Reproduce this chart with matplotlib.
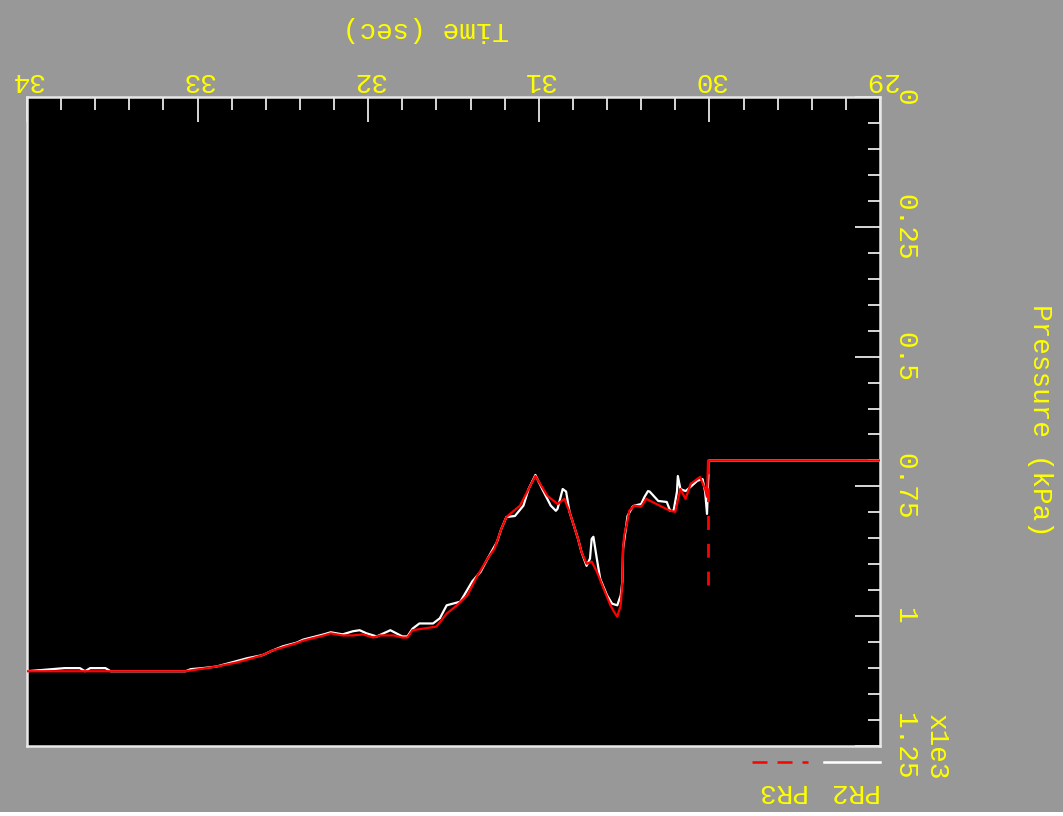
import matplotlib
matplotlib.use("Agg")
import matplotlib.pyplot as plt
from matplotlib.lines import Line2D
import numpy as np

plt.rcParams['font.family'] = ['Liberation Mono', 'DejaVu Sans Mono']

# ---------------- data (time in s, pressure in kPa x1e3) ----------------
pr2_time = [34.00, 33.78, 33.69, 33.66, 33.63, 33.54, 33.51, 33.07, 33.04, 32.97,
            32.89, 32.71, 32.62, 32.56, 32.50, 32.42, 32.38, 32.26, 32.22, 32.15,
            32.09, 32.05, 32.01, 31.95, 31.91, 31.87, 31.80, 31.77, 31.74, 31.70,
            31.62, 31.58, 31.54, 31.46, 31.39, 31.34, 31.30, 31.245, 31.22, 31.19,
            31.14, 31.09, 31.06, 31.02, 30.98, 30.93, 30.90, 30.89, 30.86, 30.84,
            30.82, 30.77, 30.75, 30.72, 30.70, 30.69, 30.68, 30.66, 30.64, 30.60,
            30.57, 30.54, 30.52, 30.51, 30.506, 30.49, 30.48, 30.45, 30.44, 30.40,
            30.38, 30.36, 30.35, 30.30, 30.25, 30.23, 30.21, 30.19, 30.185, 30.17,
            30.14, 30.125, 30.07, 30.04, 30.025, 30.014, 30.008, 30.002, 29.00]
pr2_pressure = [1.106, 1.100, 1.100, 1.106, 1.100, 1.100, 1.106, 1.106, 1.102, 1.100,
                1.097, 1.081, 1.075, 1.066, 1.058, 1.051, 1.045, 1.035, 1.031, 1.035,
                1.029, 1.027, 1.033, 1.039, 1.033, 1.027, 1.039, 1.039, 1.024, 1.014,
                1.014, 1.004, 0.979, 0.972, 0.933, 0.914, 0.889, 0.857, 0.832, 0.809,
                0.807, 0.787, 0.755, 0.728, 0.755, 0.787, 0.797, 0.793, 0.755, 0.760,
                0.799, 0.851, 0.876, 0.903, 0.889, 0.851, 0.847, 0.889, 0.928, 0.960,
                0.976, 0.979, 0.960, 0.933, 0.870, 0.832, 0.807, 0.789, 0.787, 0.784,
                0.770, 0.759, 0.760, 0.778, 0.780, 0.797, 0.797, 0.760, 0.730, 0.755,
                0.759, 0.755, 0.739, 0.736, 0.760, 0.803, 0.745, 0.700, 0.700]

pr3_time = [34.00, 33.51, 33.07, 32.89, 32.77, 32.68, 32.62, 32.56, 32.50, 32.42,
            32.38, 32.26, 32.22, 32.15, 32.09, 32.03, 31.97, 31.93, 31.85, 31.80,
            31.77, 31.74, 31.68, 31.60, 31.54, 31.48, 31.42, 31.36, 31.30, 31.26,
            31.22, 31.19, 31.11, 31.06, 31.02, 30.95, 30.89, 30.85, 30.82, 30.77,
            30.75, 30.72, 30.69, 30.66, 30.62, 30.58, 30.56, 30.54, 30.52, 30.51,
            30.506, 30.50, 30.48, 30.47, 30.44, 30.40, 30.37, 30.31, 30.23, 30.20,
            30.17, 30.14, 30.11, 30.055, 30.025, 30.014, 30.008, 29.00]
pr3_pressure = [1.106, 1.106, 1.106, 1.097, 1.089, 1.081, 1.075, 1.066, 1.060, 1.052,
                1.047, 1.037, 1.033, 1.037, 1.037, 1.035, 1.041, 1.037, 1.037, 1.041,
                1.041, 1.027, 1.024, 1.020, 0.995, 0.979, 0.960, 0.922, 0.889, 0.870,
                0.832, 0.809, 0.787, 0.755, 0.730, 0.768, 0.784, 0.774, 0.799, 0.851,
                0.876, 0.899, 0.895, 0.914, 0.947, 0.979, 0.991, 1.001, 0.979, 0.933,
                0.870, 0.845, 0.816, 0.797, 0.787, 0.789, 0.774, 0.784, 0.797, 0.799,
                0.755, 0.774, 0.745, 0.732, 0.755, 0.770, 0.700, 0.700]

# PR3 initial jump (drawn dashed)
pr3_jump_time = [30.01, 30.01]
pr3_jump_pressure = [0.700, 0.951]

time_major = [29, 30, 31, 32, 33, 34]
time_labels = ['29', '30', '31', '32', '33', '34']
press_major = [0, 0.25, 0.5, 0.75, 1.0, 1.25]
press_labels = ['0', '0.25', '0.5', '0.75', '1', '1.25']

series_names = ['PR2', 'PR3']
series_colors = ['white', '#ff0000']

# ---------------- figure ----------------
W, H = 1063, 816
BG = '#989898'
YEL = '#ffff00'
FS = 20
fig = plt.figure(figsize=(W / 100, H / 100), dpi=100, facecolor=BG)
# thin white strip at the very bottom
fig.patches.append(plt.Rectangle((0, 0), 1, 4 / H, transform=fig.transFigure,
                                 facecolor='white', edgecolor='none', zorder=0))

ax = fig.add_axes([27 / W, 1 - 746 / H, 853 / W, 649 / H])
ax.set_facecolor('black')
ax.set_xlim(34, 29)
ax.set_ylim(1.25, 0)

ax.plot(pr2_time, pr2_pressure, color=series_colors[0], lw=1.6, zorder=3)
ax.plot(pr3_time, pr3_pressure, color=series_colors[1], lw=1.6, zorder=4)
ax.plot(pr3_jump_time, pr3_jump_pressure, color=series_colors[1], lw=2.0,
        linestyle=(0, (5, 5)), zorder=4)

for s in ax.spines.values():
    s.set_color('#e8e8e8')
    s.set_linewidth(1.8)

ax.xaxis.tick_top()
ax.yaxis.tick_right()
ax.set_xticks(time_major)
ax.set_xticklabels(time_labels)
ax.set_xticks(np.arange(29, 34.001, 0.2), minor=True)
ax.set_yticks(press_major)
ax.set_yticklabels(press_labels)
ax.set_yticks(np.arange(0, 1.2501, 0.05), minor=True)

ax.tick_params(axis='x', which='major', direction='in', length=18, width=1.3,
               color='#e8e8e8', labelcolor=YEL, labelsize=FS, labelrotation=180, pad=3)
ax.tick_params(axis='x', which='minor', direction='in', length=9, width=1.3,
               color='#e8e8e8')
ax.tick_params(axis='y', which='major', direction='in', length=18, width=1.3,
               color='#e8e8e8', labelcolor=YEL, labelsize=FS, labelrotation=270, pad=8)
ax.tick_params(axis='y', which='minor', direction='in', length=9, width=1.3,
               color='#e8e8e8')
for lab in ax.get_yticklabels():
    lab.set_verticalalignment('center')

# axis titles (upside-down orientation)
fig.text(426 / W, 1 - 29 / H, 'Time (sec)', color=YEL, fontsize=FS,
         rotation=180, ha='center', va='center')
fig.text(1040 / W, 1 - 420 / H, 'Pressure (kPa)', color=YEL, fontsize=FS,
         rotation=270, ha='center', va='center')
fig.text(936 / W, 1 - 747 / H, 'x1e3', color=YEL, fontsize=FS,
         rotation=270, ha='center', va='center')

# legend
fig.add_artist(Line2D([824 / W, 880 / W], [1 - 762 / H, 1 - 762 / H],
                      transform=fig.transFigure, color=series_colors[0], lw=1.8))
fig.add_artist(Line2D([752 / W, 808 / W], [1 - 762 / H, 1 - 762 / H],
                      transform=fig.transFigure, color=series_colors[1], lw=1.8,
                      linestyle=(0, (6, 4))))
fig.text(852 / W, 1 - 791 / H, series_names[0], color=YEL, fontsize=FS,
         rotation=180, ha='center', va='center')
fig.text(780 / W, 1 - 791 / H, series_names[1], color=YEL, fontsize=FS,
         rotation=180, ha='center', va='center')

fig.savefig('out.png', dpi=100, facecolor=BG)
